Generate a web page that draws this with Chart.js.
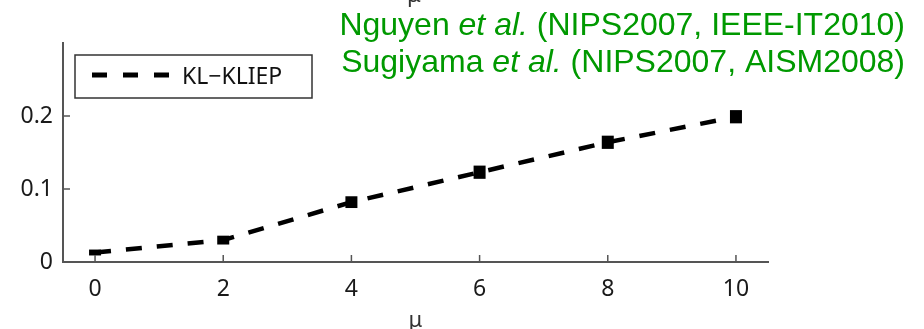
<!DOCTYPE html>
<html>
<head>
<meta charset="utf-8">
<script src="https://cdn.jsdelivr.net/npm/chart.js@4"></script>
<style>
  html, body { margin: 0; padding: 0; background: #fff; }
  canvas { display: block; }
</style>
</head>
<body>
<canvas id="chart" width="924" height="329"></canvas>
<script>
// data
var muValues = [0, 2, 4, 6, 8, 10];
var kliepMean = [0.013, 0.030, 0.082, 0.123, 0.164, 0.199];
var kliepErr = [0.002, 0.004, 0.006, 0.007, 0.007, 0.007];
var xTickValues = [0, 2, 4, 6, 8, 10];
var yTickValues = [0, 0.1, 0.2];
var seriesLabel = 'KL\u2212KLIEP';
var axisLabel = '\u03bc';
var citeLines = [
    ['Nguyen ', 'et al.', ' (NIPS2007, IEEE-IT2010)'],
    ['Sugiyama ', 'et al.', ' (NIPS2007, AISM2008)']
];

var tickFont = '"Noto Sans", sans-serif';
var axisColor = '#555';

// matlab style ticks pointing into the plot
var inwardTicks = {
    id: 'inwardTicks',
    afterDraw: function(chart) {
        var ctx = chart.ctx;
        var area = chart.chartArea;
        ctx.save();
        ctx.strokeStyle = axisColor;
        ctx.lineWidth = 1.5;
        chart.scales.x.ticks.forEach(function(t) {
            var px = chart.scales.x.getPixelForValue(t.value);
            ctx.beginPath();
            ctx.moveTo(px, area.bottom);
            ctx.lineTo(px, area.bottom - 7);
            ctx.stroke();
        });
        chart.scales.y.ticks.forEach(function(t) {
            var py = chart.scales.y.getPixelForValue(t.value);
            ctx.beginPath();
            ctx.moveTo(area.left, py);
            ctx.lineTo(area.left + 7, py);
            ctx.stroke();
        });
        ctx.restore();
    }
};

// error bars drawn as solid blobs, like the reference
var errorBars = {
    id: 'errorBars',
    afterDatasetsDraw: function(chart) {
        var ctx = chart.ctx;
        var xs = chart.scales.x, ys = chart.scales.y;
        ctx.save();
        ctx.fillStyle = '#000';
        muValues.forEach(function(m, i) {
            var px = xs.getPixelForValue(m);
            var top = ys.getPixelForValue(kliepMean[i] + kliepErr[i]) - 1.5;
            var bot = ys.getPixelForValue(kliepMean[i] - kliepErr[i]) + 1.5;
            ctx.fillRect(px - 6, top, 12, bot - top);
        });
        ctx.restore();
    }
};

// boxed legend in the upper left of the axes
var boxLegend = {
    id: 'boxLegend',
    afterDraw: function(chart) {
        var ctx = chart.ctx;
        var area = chart.chartArea;
        var bx = area.left + 12, by = area.top + 12, bw = 237, bh = 43;
        ctx.save();
        ctx.strokeStyle = '#333';
        ctx.lineWidth = 1.5;
        ctx.strokeRect(bx, by, bw, bh);
        ctx.strokeStyle = '#000';
        ctx.lineWidth = 5;
        ctx.setLineDash([15, 16]);
        ctx.beginPath();
        ctx.moveTo(bx + 17, by + 20);
        ctx.lineTo(bx + 97, by + 20);
        ctx.stroke();
        ctx.setLineDash([]);
        ctx.fillStyle = '#111';
        ctx.font = '23px ' + tickFont;
        ctx.textBaseline = 'middle';
        ctx.fillText(seriesLabel, bx + 107, by + 22);
        ctx.restore();
    }
};

// green citation text and the clipped mu from the panel above
var citation = {
    id: 'citation',
    afterDraw: function(chart) {
        var ctx = chart.ctx;
        ctx.save();
        ctx.fillStyle = '#333';
        ctx.font = '22px ' + tickFont;
        ctx.textAlign = 'center';
        ctx.textBaseline = 'alphabetic';
        ctx.fillText(axisLabel, 414, 2);

        ctx.fillStyle = '#009900';
        ctx.textAlign = 'left';
        var right = 905;
        var baselines = [35, 72];
        citeLines.forEach(function(parts, li) {
            var fonts = ['32px "Liberation Sans", Arial, sans-serif',
                         'italic 32px "Liberation Sans", Arial, sans-serif',
                         '32px "Liberation Sans", Arial, sans-serif'];
            var widths = parts.map(function(p, k) {
                ctx.font = fonts[k];
                return ctx.measureText(p).width;
            });
            var total = widths.reduce(function(a, b) { return a + b; }, 0);
            var x = right - total;
            parts.forEach(function(p, k) {
                ctx.font = fonts[k];
                ctx.fillText(p, x, baselines[li]);
                x += widths[k];
            });
        });
        ctx.restore();
    }
};

new Chart(document.getElementById('chart'), {
    type: 'line',
    data: {
        datasets: [{
            label: seriesLabel,
            data: muValues.map(function(m, i) { return { x: m, y: kliepMean[i] }; }),
            borderColor: '#000',
            borderWidth: 4.5,
            borderDash: [16, 15],
            pointRadius: 0,
            tension: 0,
            fill: false
        }]
    },
    options: {
        responsive: false,
        animation: false,
        layout: { padding: { top: 43, right: 156, left: 0, bottom: 0 } },
        plugins: {
            legend: { display: false },
            tooltip: { enabled: false }
        },
        scales: {
            x: {
                type: 'linear',
                min: -0.5,
                max: 10.5,
                afterBuildTicks: function(scale) {
                    scale.ticks = xTickValues.map(function(v) { return { value: v }; });
                },
                afterFit: function(scale) { scale.height = 67; },
                grid: { drawOnChartArea: false, drawTicks: false },
                border: { color: axisColor, width: 2 },
                ticks: {
                    color: '#1a1a1a',
                    padding: 14,
                    font: { family: tickFont, size: 23 }
                },
                title: {
                    display: true,
                    text: axisLabel,
                    color: '#333',
                    padding: { top: 0, bottom: 1 },
                    font: { family: tickFont, size: 22, lineHeight: 0.7 }
                }
            },
            y: {
                min: 0,
                max: 0.3,
                afterBuildTicks: function(scale) {
                    scale.ticks = yTickValues.map(function(v) { return { value: v }; });
                },
                afterFit: function(scale) { scale.width = 63; },
                grid: { drawOnChartArea: false, drawTicks: false },
                border: { color: axisColor, width: 2 },
                ticks: {
                    color: '#1a1a1a',
                    padding: 10,
                    font: { family: tickFont, size: 23 },
                    callback: function(v) { return String(v); }
                }
            }
        }
    },
    plugins: [errorBars, inwardTicks, boxLegend, citation]
});
</script>
</body>
</html>
